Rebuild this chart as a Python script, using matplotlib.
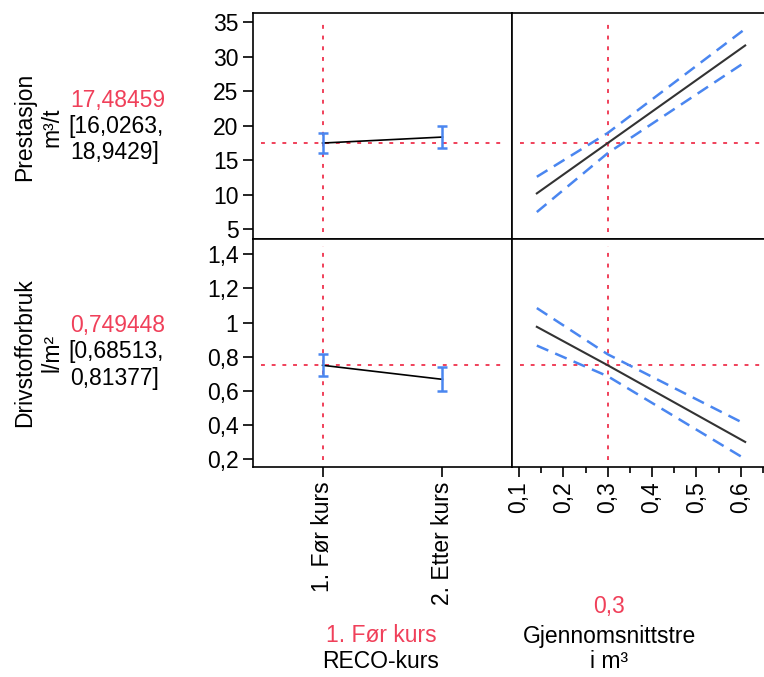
import matplotlib.pyplot as plt
import numpy as np

plt.rcParams['font.family'] = ['Liberation Sans', 'DejaVu Sans']

# Data
kategorier = ["1. Før kurs", "2. Etter kurs"]
prest_kat = [17.48459, 18.35]
prest_kat_lav = [16.0263, 16.75]
prest_kat_hoy = [18.9429, 19.95]
driv_kat = [0.749448, 0.667]
driv_kat_lav = [0.68513, 0.597]
driv_kat_hoy = [0.81377, 0.737]

tre_x = [0.14, 0.30, 0.61]
prest_tre = [10.2, 17.48459, 31.6]
prest_tre_lav = [7.5, 16.0263, 29.2]
prest_tre_hoy = [12.6, 18.9429, 34.0]
driv_tre = [0.975, 0.749448, 0.30]
driv_tre_lav = [0.865, 0.68513, 0.20]
driv_tre_hoy = [1.085, 0.81377, 0.405]

valgt_kat = 0
valgt_tre = 0.3

W, H = 764, 677
fig = plt.figure(figsize=(W / 100, H / 100), dpi=100)

def px_axes(x0, y0, x1, y1):
    return fig.add_axes([x0 / W, 1 - y1 / H, (x1 - x0) / W, (y1 - y0) / H])

rod = "#f0405a"
bla = "#4a86f0"
fs = 16.5

ax_tl = px_axes(253, 13, 512, 239)
ax_tr = px_axes(512, 13, 770, 239)
ax_bl = px_axes(253, 239, 512, 467)
ax_br = px_axes(512, 239, 770, 467)

dotted = (0, (2, 3.5))

for ax in (ax_tl, ax_tr, ax_bl, ax_br):
    for s in ax.spines.values():
        s.set_linewidth(1.2)
    ax.tick_params(labelsize=fs, width=1.2, length=7, direction='out')

# venstre kolonne: kategorier
for ax, m, lo, hi, ref in ((ax_tl, prest_kat, prest_kat_lav, prest_kat_hoy, prest_kat[0]),
                          (ax_bl, driv_kat, driv_kat_lav, driv_kat_hoy, driv_kat[0])):
    xs = np.arange(len(kategorier))
    ax.axhline(ref, color=rod, ls=dotted, lw=1.4, xmin=0.03, xmax=0.97)
    ax.axvline(valgt_kat, color=rod, ls=dotted, lw=1.4, ymin=0.03, ymax=0.97)
    ax.plot(xs, m, color='black', lw=1.2)
    ax.errorbar(xs, m, yerr=[np.array(m) - np.array(lo), np.array(hi) - np.array(m)],
                fmt='none', ecolor=bla, elinewidth=1.8, capsize=3.5, capthick=1.8)
    ax.set_xlim(-0.58, 1.58)

# høyre kolonne: gjennomsnittstre
for ax, m, lo, hi, ref in ((ax_tr, prest_tre, prest_tre_lav, prest_tre_hoy, prest_tre[1]),
                          (ax_br, driv_tre, driv_tre_lav, driv_tre_hoy, driv_tre[1])):
    ax.axhline(ref, color=rod, ls=dotted, lw=1.4, xmin=0.03, xmax=0.97)
    ax.axvline(valgt_tre, color=rod, ls=dotted, lw=1.4, ymin=0.03, ymax=0.97)
    ax.plot(tre_x, m, color='#333333', lw=1.5)
    ax.plot(tre_x, lo, color=bla, lw=1.8, ls=(0, (5, 3)))
    ax.plot(tre_x, hi, color=bla, lw=1.8, ls=(0, (5, 3)))
    ax.set_xlim(0.084, 0.666)
    ax.spines['right'].set_visible(False)
    ax.set_yticks([])

ax_tl.set_ylim(3.6, 36.3)
ax_tr.set_ylim(3.6, 36.3)
ax_tl.set_yticks([5, 10, 15, 20, 25, 30, 35])
ax_bl.set_ylim(0.153, 1.49)
ax_br.set_ylim(0.153, 1.49)
ax_bl.set_yticks([0.2, 0.4, 0.6, 0.8, 1.0, 1.2, 1.4])
ax_bl.set_yticklabels(["0,2", "0,4", "0,6", "0,8", "1", "1,2", "1,4"])

ax_tl.set_xticks([])
ax_tr.set_xticks([])
ax_bl.set_xticks([0, 1])
ax_bl.set_xticklabels(kategorier, rotation=90)
ax_br.set_xticks([0.1, 0.2, 0.3, 0.4, 0.5, 0.6])
ax_br.set_xticklabels(["0,1", "0,2", "0,3", "0,4", "0,5", "0,6"], rotation=90)
ax_br.set_xticks(np.arange(0.15, 0.66, 0.1), minor=True)
ax_br.tick_params(axis='x', which='minor', length=4, width=1.2)

def ftext(x, y, s, **kw):
    fig.text(x / W, 1 - y / H, s, fontsize=fs, **kw)

# y-etiketter
ftext(25, 127, "Prestasjon", rotation=90, ha='center', va='center')
ftext(52, 127, "m³/t", rotation=90, ha='center', va='center')
ftext(70, 100, "17,48459", color=rod, ha='left', va='center')
ftext(68, 127, "[16,0263,", ha='left', va='center')
ftext(70, 153, "18,9429]", ha='left', va='center')

ftext(25, 353, "Drivstofforbruk", rotation=90, ha='center', va='center')
ftext(52, 353, "l/m²", rotation=90, ha='center', va='center')
ftext(70, 325, "0,749448", color=rod, ha='left', va='center')
ftext(68, 352, "[0,68513,", ha='left', va='center')
ftext(70, 378, "0,81377]", ha='left', va='center')

# x-etiketter
ftext(381, 636, "1. Før kurs", color=rod, ha='center', va='center')
ftext(381, 662, "RECO-kurs", ha='center', va='center')
ftext(609, 606, "0,3", color=rod, ha='center', va='center')
ftext(609, 636, "Gjennomsnittstre", ha='center', va='center')
ftext(609, 662, "i m³", ha='center', va='center')

fig.savefig("out.png", dpi=100)
